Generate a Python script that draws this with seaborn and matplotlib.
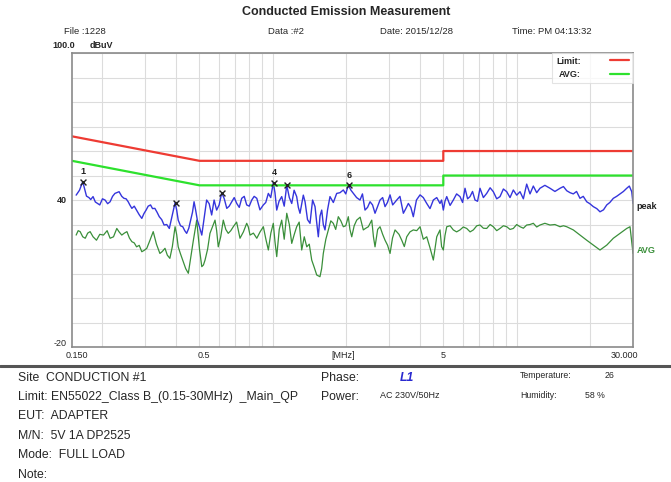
import numpy as np
import pandas as pd
import matplotlib
matplotlib.use("Agg")
import matplotlib.pyplot as plt
import seaborn as sns

# ---------------- data ----------------
limit_freq = [0.15, 0.5, 5, 5, 30]
limit_qp = [66, 56, 56, 60, 60]
limit_avg = [56, 46, 46, 50, 50]

# peak trace (MHz, dBuV), main readings
peak_freq = [0.156, 0.166, 0.172, 0.179, 0.183, 0.195, 0.205, 0.215, 0.225, 0.234,
             0.245, 0.255, 0.264, 0.276, 0.290, 0.302, 0.315, 0.328, 0.342, 0.358,
             0.376, 0.397, 0.409, 0.427, 0.443, 0.460, 0.475, 0.490, 0.511, 0.535,
             0.561, 0.588, 0.617, 0.647, 0.678, 0.711, 0.745, 0.781, 0.819, 0.859,
             0.914, 0.958, 1.004, 1.037, 1.087, 1.140, 1.195, 1.252, 1.292, 1.355,
             1.420, 1.489, 1.536, 1.586, 1.636, 1.715, 1.827, 1.945, 2.039, 2.138,
             2.277, 2.387, 2.503, 2.624, 2.751, 2.884, 3.024, 3.221, 3.429, 3.594,
             3.767, 4.014, 4.276, 4.551, 4.847, 5.001, 5.165, 5.496, 5.855, 6.138,
             6.435, 6.747, 7.071, 7.533, 8.019, 8.542, 9.102, 9.686, 10.32, 10.99,
             11.70, 12.46, 13.70, 15.06, 16.04, 17.07, 18.18, 19.37, 20.62, 21.96,
             23.41, 24.91, 26.54, 28.27, 28.97, 29.64, 30.0]
peak_db = [42.0, 47.5, 41.6, 40.2, 41.4, 38.0, 40.0, 39.3, 42.7, 43.4,
           40.7, 39.3, 36.6, 35.9, 32.5, 35.9, 38.0, 36.6, 33.2, 29.8,
           28.4, 38.9, 31.8, 29.1, 26.4, 31.8, 39.3, 31.8, 25.7, 40.0,
           33.9, 35.9, 43.0, 36.6, 39.3, 38.6, 40.7, 38.0, 40.0, 40.7,
           38.0, 42.7, 47.1, 35.9, 41.4, 46.1, 38.6, 41.4, 34.6, 39.3,
           30.5, 37.3, 25.0, 35.9, 27.8, 41.4, 42.7, 44.1, 46.1, 42.7,
           40.0, 35.9, 39.3, 34.6, 40.0, 37.3, 42.1, 40.0, 34.6, 38.6,
           33.2, 42.1, 38.6, 40.0, 38.6, 35.9, 41.4, 40.0, 41.4, 44.8,
           41.4, 40.0, 44.8, 42.7, 43.4, 41.4, 43.4, 44.1, 43.4, 46.5,
           45.7, 44.8, 44.8, 44.8, 43.8, 42.5, 40.7, 39.3, 37.3, 35.2,
           38.0, 40.7, 42.5, 44.8, 45.7, 43.4, 38.6]

# peak trace, finer wiggles between the main readings
peak_fine_freq = [0.161, 0.169, 0.176, 0.187, 0.200, 0.210, 0.220, 0.229, 0.240, 0.250,
                  0.259, 0.270, 0.283, 0.296, 0.308, 0.321, 0.335, 0.350, 0.367, 0.386,
                  0.403, 0.418, 0.435, 0.452, 0.468, 0.482, 0.500, 0.523, 0.548, 0.574,
                  0.602, 0.632, 0.662, 0.694, 0.728, 0.763, 0.800, 0.838, 0.885, 0.935,
                  0.980, 1.020, 1.060, 1.113, 1.168, 1.222, 1.272, 1.333, 1.387, 1.455,
                  1.512, 1.561, 1.610, 1.676, 1.770, 1.885, 1.990, 2.090, 2.205, 2.330,
                  2.445, 2.563, 2.690, 2.820, 2.950, 3.100, 3.320, 3.510, 3.680, 3.880,
                  4.140, 4.410, 4.700, 4.920, 5.080, 5.330, 5.670, 6.000, 6.290, 6.590,
                  6.910, 7.300, 7.780, 8.280, 8.820, 9.390, 10.00, 10.65, 11.34, 12.08,
                  13.05, 14.35, 15.55, 16.55, 17.60, 18.75, 19.95, 21.30, 22.70, 24.10,
                  25.70, 27.40]
peak_fine_db = [44.0, 44.5, 41.0, 39.2, 40.5, 38.5, 41.5, 43.0, 41.5, 40.5,
                38.0, 37.5, 34.0, 34.5, 37.5, 36.5, 35.0, 32.0, 30.0, 33.5,
                36.0, 29.5, 27.5, 28.5, 35.0, 36.0, 29.0, 33.0, 38.5, 40.0,
                38.0, 40.5, 37.5, 41.0, 37.0, 41.5, 37.5, 41.5, 36.0, 39.0,
                41.0, 43.0, 39.5, 37.5, 41.0, 44.0, 37.0, 42.0, 32.0, 40.0,
                31.0, 33.5, 30.0, 36.0, 39.0, 43.0, 42.5, 44.0, 41.0, 42.5,
                37.0, 38.0, 37.5, 41.0, 39.0, 38.0, 41.5, 36.5, 37.0, 40.0,
                41.0, 36.5, 41.0, 40.0, 39.5, 37.8, 42.5, 39.0, 40.5, 43.5,
                39.5, 41.0, 45.0, 40.5, 44.5, 41.0, 42.0, 40.5, 42.5, 43.0,
                46.0, 43.5, 45.5, 43.0, 43.5, 41.5, 38.5, 36.5, 36.0, 39.0,
                41.5, 43.5]

# average trace, main readings
avg_freq = [0.156, 0.162, 0.170, 0.178, 0.189, 0.202, 0.215, 0.229, 0.240, 0.252,
            0.264, 0.276, 0.290, 0.304, 0.323, 0.344, 0.361, 0.378, 0.397, 0.409,
            0.429, 0.450, 0.472, 0.487, 0.511, 0.527, 0.552, 0.579, 0.597, 0.626,
            0.656, 0.688, 0.733, 0.781, 0.806, 0.859, 0.914, 0.958, 1.004, 1.037,
            1.087, 1.140, 1.195, 1.252, 1.313, 1.377, 1.443, 1.513, 1.560, 1.610,
            1.688, 1.769, 1.855, 1.945, 2.039, 2.106, 2.207, 2.349, 2.463, 2.544,
            2.624, 2.751, 2.884, 3.024, 3.170, 3.377, 3.540, 3.767, 4.014, 4.276,
            4.551, 4.847, 5.001, 5.165, 5.496, 5.855, 6.237, 6.640, 7.071, 7.533,
            8.019, 8.542, 9.102, 9.686, 10.32, 10.99, 11.70, 12.46, 13.70, 15.06,
            16.04, 17.07, 18.18, 19.37, 20.62, 21.96, 23.41, 24.91, 26.54, 28.27,
            29.16, 30.0]
avg_db = [25.7, 27.1, 24.4, 27.1, 23.6, 25.7, 24.4, 28.4, 25.7, 27.1,
          23.0, 20.9, 18.9, 20.3, 27.1, 18.2, 20.3, 16.2, 29.1, 20.9,
          14.8, 10.1, 23.6, 31.8, 12.8, 15.5, 26.4, 31.8, 20.9, 31.8,
          26.4, 29.1, 24.4, 30.5, 25.7, 24.4, 29.1, 19.6, 30.5, 16.9,
          31.8, 34.6, 22.3, 29.1, 19.6, 20.9, 15.5, 9.4, 8.7, 18.2,
          27.8, 30.5, 33.2, 29.1, 33.2, 25.0, 31.8, 27.8, 29.1, 31.8,
          20.9, 29.1, 23.6, 18.2, 27.8, 23.6, 25.0, 27.8, 29.1, 25.0,
          15.5, 27.8, 19.6, 29.1, 27.8, 27.8, 28.4, 27.8, 29.8, 28.4,
          29.1, 28.4, 29.1, 28.4, 29.1, 29.8, 30.5, 29.8, 29.8, 29.1,
          29.1, 27.8, 25.7, 23.6, 21.6, 19.6, 21.6, 24.4, 26.4, 28.4,
          29.1, 18.2]

# average trace, finer wiggles
avg_fine_freq = [0.159, 0.166, 0.174, 0.183, 0.195, 0.209, 0.222, 0.234, 0.246, 0.258,
                 0.270, 0.283, 0.297, 0.313, 0.333, 0.352, 0.369, 0.387, 0.403, 0.418,
                 0.439, 0.461, 0.480, 0.500, 0.519, 0.540, 0.565, 0.588, 0.611, 0.641,
                 0.672, 0.710, 0.757, 0.793, 0.832, 0.886, 0.936, 0.981, 1.020, 1.062,
                 1.113, 1.168, 1.224, 1.282, 1.345, 1.410, 1.478, 1.585, 1.649, 1.728,
                 1.810, 1.900, 1.990, 2.070, 2.155, 2.280, 2.405, 2.585, 2.690, 2.820,
                 2.955, 3.095, 3.290, 3.460, 3.650, 3.890, 4.140, 4.410, 4.700, 4.920,
                 5.080, 5.330, 5.670, 6.040, 6.440, 6.860, 7.300, 7.780, 8.280, 8.820,
                 9.390, 10.00, 10.65, 11.34, 12.08, 13.05, 14.35, 15.55]
avg_fine_db = [27.5, 25.0, 26.5, 25.0, 26.0, 27.5, 25.0, 27.0, 26.5, 24.5,
               22.5, 21.5, 19.5, 23.5, 22.0, 19.0, 17.5, 21.0, 26.0, 18.0,
               12.0, 17.0, 28.0, 20.0, 13.5, 20.0, 29.0, 27.5, 25.0, 28.0,
               27.5, 31.0, 27.0, 29.0, 26.5, 27.0, 24.0, 26.5, 23.0, 28.0,
               24.0, 30.0, 26.0, 31.0, 25.0, 22.0, 12.5, 12.0, 24.0, 31.5,
               28.0, 31.5, 29.5, 28.0, 29.5, 33.0, 28.5, 25.0, 28.0, 26.0,
               21.5, 24.5, 26.0, 21.0, 27.0, 27.5, 24.0, 20.5, 25.0, 21.0,
               25.5, 29.5, 27.0, 29.0, 27.0, 29.5, 28.5, 30.0, 27.5, 29.5,
               28.0, 30.0, 28.5, 30.0, 29.0, 30.5, 30.0, 29.5]

marker_freq = [0.166, 0.399, 0.618, 1.011, 1.139, 2.058]
marker_db = [47.5, 38.9, 43.0, 47.1, 46.1, 46.1]
marker_labels = ["1", "", "", "4", "", "6"]

xtick_text = ["0.150", "0.5", "[MHz]", "5", "30.000"]

# ---------------- figure ----------------
sns.set_theme(style="white")
plt.rcParams["font.family"] = ["Liberation Sans", "DejaVu Sans"]

fig = plt.figure(figsize=(6.71, 4.82), dpi=100)
ax = fig.add_axes([0.1073, 0.280, 0.8361, 0.610])

RED = "#ee3b33"
GREEN = "#2de12d"
BLUE = "#3535dc"
DGREEN = "#3a8f3a"

df_lim = pd.DataFrame({"f": limit_freq, "qp": limit_qp, "av": limit_avg})
df_peak = pd.DataFrame({"f": peak_freq + peak_fine_freq, "db": peak_db + peak_fine_db})
df_avg = pd.DataFrame({"f": avg_freq + avg_fine_freq, "db": avg_db + avg_fine_db})

sns.lineplot(data=df_avg, x="f", y="db", ax=ax, color=DGREEN, lw=0.9,
             estimator=None, sort=True)
sns.lineplot(data=df_peak, x="f", y="db", ax=ax, color=BLUE, lw=1.0,
             estimator=None, sort=True)
sns.lineplot(data=df_lim, x="f", y="qp", ax=ax, color=RED, lw=1.6,
             estimator=None, sort=False)
sns.lineplot(data=df_lim, x="f", y="av", ax=ax, color=GREEN, lw=1.6,
             estimator=None, sort=False)

sns.scatterplot(x=marker_freq, y=marker_db, ax=ax, marker="x", color="#222222",
                s=18, linewidth=1.0, zorder=5)
for f, d, lab in zip(marker_freq, marker_db, marker_labels):
    if lab:
        ax.annotate(lab, (f, d), xytext=(0, 4), textcoords="offset points",
                    ha="center", va="bottom", fontsize=6.5, fontweight="bold",
                    color="#222222")

ax.set_xscale("log")
ax.set_xlim(0.15, 30)
ax.set_ylim(-20, 100)

grid_x = [0.2, 0.3, 0.4, 0.5, 0.6, 0.7, 0.8, 0.9, 1, 2, 3, 4, 5, 6, 7, 8, 9, 10, 20]
ax.set_xticks(grid_x, minor=False)
ax.set_xticks([], minor=True)
ax.set_xticklabels([])
ax.set_yticks(list(range(-20, 101, 10)))
ax.set_yticklabels([])
ax.tick_params(length=0)
ax.grid(True, which="major", color="#dcdcdc", lw=0.8)
ax.set_xlabel("")
ax.set_ylabel("")
for sp in ax.spines.values():
    sp.set_color("#8a8a8a")
    sp.set_linewidth(1.2)

# axis labels (positions in axes fraction)
label_pos = [0.008, 0.235, 0.483, 0.661, 0.984]
for p, t in zip(label_pos, xtick_text):
    ax.text(p, -0.03, t, transform=ax.transAxes, ha="center", va="center",
            fontsize=6.5)
ax.text(-0.009, 40, "40", transform=ax.get_yaxis_transform(), ha="right",
        va="center", fontsize=6.5, fontweight="bold")
ax.text(-0.009, -18.5, "-20", transform=ax.get_yaxis_transform(), ha="right",
        va="center", fontsize=6.5)

# right labels
ax.text(1.006, 37.5, "peak", transform=ax.get_yaxis_transform(), ha="left",
        va="center", fontsize=6.5, fontweight="bold", color="#222222")
ax.text(1.006, 19.5, "AVG", transform=ax.get_yaxis_transform(), ha="left",
        va="center", fontsize=6.5, fontweight="bold", color=DGREEN)

# legend box
leg = ax.legend(handles=[plt.Line2D([], [], color=RED, lw=1.6),
                         plt.Line2D([], [], color=GREEN, lw=1.6)],
                labels=["Limit:", "AVG:"], loc="upper right",
                bbox_to_anchor=(1.0, 1.0), frameon=True, fontsize=6.5,
                markerfirst=False, handlelength=2.2, handletextpad=3.2,
                borderpad=0.4, labelspacing=0.5, fancybox=False,
                borderaxespad=0.0)
leg.get_frame().set_edgecolor("#dddddd")
leg.get_frame().set_linewidth(0.8)
for t in leg.get_texts():
    t.set_fontweight("bold")

# header texts
fig.text(346 / 671, 1 - 12 / 482, "Conducted Emission Measurement", ha="center",
         va="center", fontsize=9, fontweight="bold")
fig.text(64 / 671, 1 - 31 / 482, "File :1228", fontsize=6.8, va="center")
fig.text(268 / 671, 1 - 31 / 482, "Data :#2", fontsize=6.8, va="center")
fig.text(380 / 671, 1 - 31 / 482, "Date: 2015/12/28", fontsize=6.8, va="center")
fig.text(512 / 671, 1 - 31 / 482, "Time: PM 04:13:32", fontsize=6.8, va="center")
fig.text(52 / 671, 1 - 45 / 482, "100.0", fontsize=6.5, va="center",
         fontweight="bold")
fig.text(90 / 671, 1 - 45 / 482, "dBuV", fontsize=6.5, va="center",
         fontweight="bold")

# separator line
fig.add_artist(plt.Line2D([0, 1], [1 - 366 / 482, 1 - 366 / 482],
                          transform=fig.transFigure, color="#555555", lw=2.2))

# bottom info
info = [("Site  CONDUCTION #1", 378), ("Limit: EN55022_Class B_(0.15-30MHz)  _Main_QP", 397),
        ("EUT:  ADAPTER", 416), ("M/N:  5V 1A DP2525", 436),
        ("Mode:  FULL LOAD", 455), ("Note:", 475)]
for txt, y in info:
    fig.text(18 / 671, 1 - y / 482, txt, fontsize=8.8, va="center")
fig.text(321 / 671, 1 - 378 / 482, "Phase:", fontsize=8.8, va="center")
fig.text(400 / 671, 1 - 378 / 482, "L1", fontsize=8.8, va="center",
         color="#2a2ad0", fontweight="bold", style="italic")
fig.text(321 / 671, 1 - 397 / 482, "Power:", fontsize=8.8, va="center")
fig.text(380 / 671, 1 - 396 / 482, "AC 230V/50Hz", fontsize=6.5, va="center")
fig.text(520 / 671, 1 - 376 / 482, "Temperature:", fontsize=6.3, va="center")
fig.text(605 / 671, 1 - 376 / 482, "26", fontsize=6.3, va="center")
fig.text(520 / 671, 1 - 395 / 482, "Humidity:", fontsize=6.3, va="center")
fig.text(585 / 671, 1 - 395 / 482, "58 %", fontsize=6.3, va="center")

fig.savefig("out.png", dpi=100)
